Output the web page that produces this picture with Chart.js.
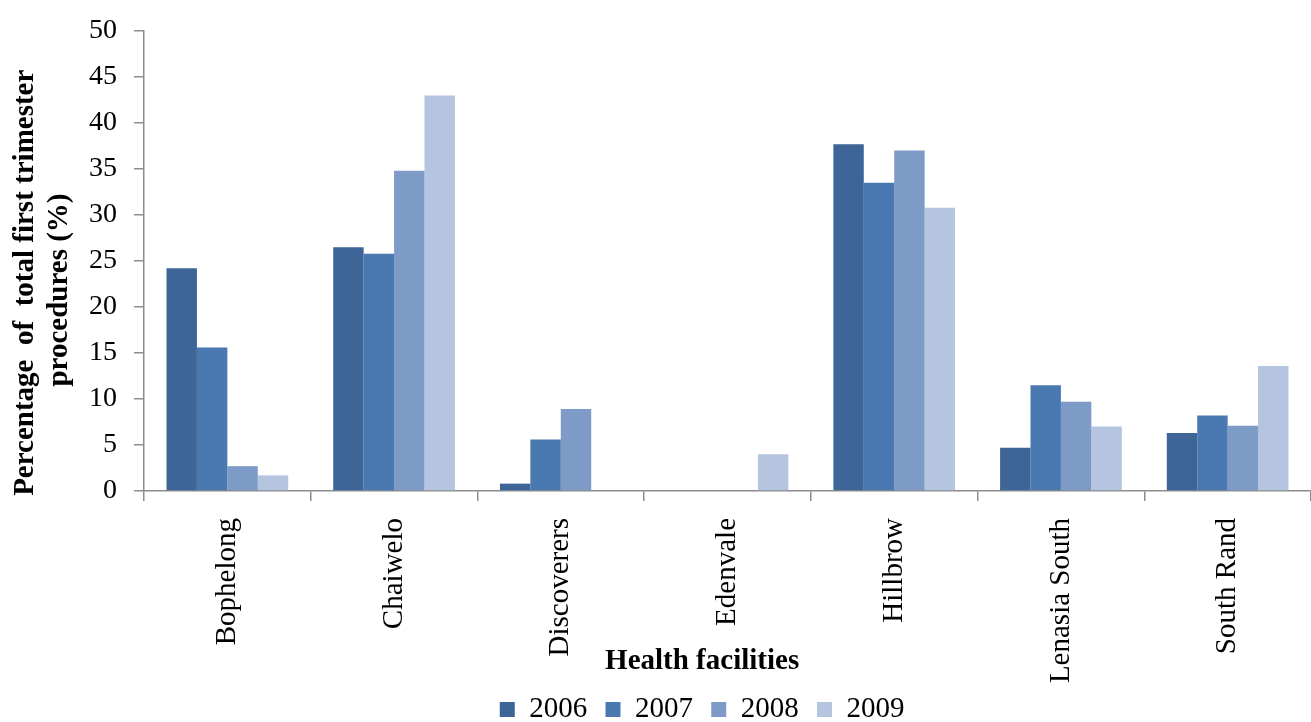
<!DOCTYPE html>
<html>
<head>
<meta charset="utf-8">
<script src="https://cdn.jsdelivr.net/npm/chart.js@4"></script>
<style>
  html, body { margin: 0; padding: 0; background: #fff; overflow: hidden; }
  #wrap { width: 1311px; height: 722px; }
</style>
</head>
<body>
<div id="wrap"><canvas id="chart"></canvas></div>
<script>
const facilities = ['Bophelong', 'Chaiwelo', 'Discoverers', 'Edenvale', 'Hillbrow', 'Lenasia South', 'South Rand'];
const years = ['2006', '2007', '2008', '2009'];

// % of first trimester procedures per facility, one array per year
const pct2006 = [24.2, 26.5, 0.8, 0, 37.7, 4.7, 6.3];
const pct2007 = [15.6, 25.8, 5.6, 0, 33.5, 11.5, 8.2];
const pct2008 = [2.7, 34.8, 8.9, 0, 37.0, 9.7, 7.1];
const pct2009 = [1.7, 43.0, 0, 4.0, 30.8, 7.0, 13.6];

const yTicks = [0, 5, 10, 15, 20, 25, 30, 35, 40, 45, 50];

const colors = ['#3d6597', '#4a78b0', '#7e9bc8', '#b5c4df'];
const series = [pct2006, pct2007, pct2008, pct2009];

const serif = "'Liberation Serif', 'Times New Roman', serif";
const axisGrey = '#8c8c8c';

new Chart(document.getElementById('chart'), {
  type: 'bar',
  data: {
    labels: facilities,
    datasets: years.map((y, i) => ({
      label: y,
      data: series[i],
      backgroundColor: colors[i],
      borderWidth: 0,
      categoryPercentage: 0.73,
      barPercentage: 1.0
    }))
  },
  options: {
    responsive: true,
    maintainAspectRatio: false,
    animation: false,
    layout: { padding: { top: 28, left: 0, right: 0, bottom: -12 } },
    plugins: {
      legend: {
        position: 'bottom',
        fullSize: false,
        labels: {
          boxWidth: 15,
          boxHeight: 15,
          padding: 11,
          color: '#000',
          font: { family: serif, size: 29 },
          // a little trailing space widens the gaps; the last entry gets more
          // so the row sits left of centre
          generateLabels: (chart) => {
            const items = Chart.defaults.plugins.legend.labels.generateLabels(chart);
            items.forEach(it => { it.text += ' '; });
            items[items.length - 1].text += '      ';
            return items;
          }
        }
      },
      tooltip: { enabled: false }
    },
    scales: {
      x: {
        grid: {
          offset: true,
          drawOnChartArea: false,
          tickLength: 10,
          color: axisGrey,
          lineWidth: 1.5
        },
        border: { color: axisGrey, width: 1.5 },
        ticks: {
          autoSkip: false,
          minRotation: 90,
          maxRotation: 90,
          padding: 17,
          color: '#000',
          font: { family: serif, size: 29 }
        },
        title: {
          display: true,
          text: 'Health facilities       ',
          color: '#000',
          padding: { top: 0, bottom: 8 },
          font: { family: serif, size: 29, weight: 'bold', lineHeight: 1 }
        },
        afterFit: (scale) => { scale.height = 193; }
      },
      y: {
        min: 0,
        max: 50,
        afterBuildTicks: (scale) => { scale.ticks = yTicks.map(v => ({ value: v })); },
        grid: {
          drawOnChartArea: false,
          tickLength: 10,
          color: axisGrey,
          lineWidth: 1.5
        },
        border: { color: axisGrey, width: 1.5 },
        ticks: {
          padding: 17,
          color: '#000',
          font: { family: serif, size: 28, lineHeight: 1 }
        },
        title: {
          display: true,
          text: ['Percentage  of  total first trimester      ', 'procedures (%)        '],
          color: '#000',
          padding: { top: 9, bottom: 0 },
          font: { family: serif, size: 29, weight: 'bold', lineHeight: 1.15 }
        },
        afterFit: (scale) => { scale.width = 144; }
      }
    }
  }
});
</script>
</body>
</html>
